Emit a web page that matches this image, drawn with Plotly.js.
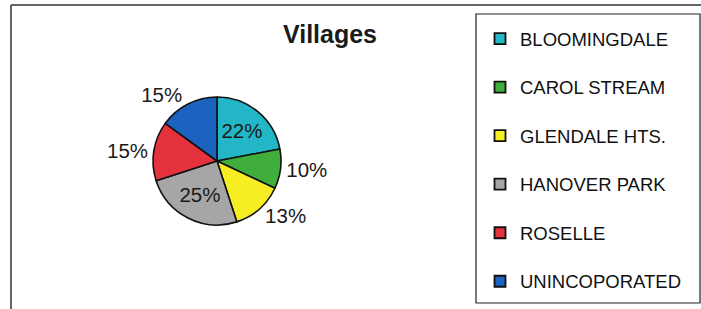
<!DOCTYPE html>
<html>
<head>
<meta charset="utf-8">
<script src="https://cdn.plot.ly/plotly-3.0.1.min.js"></script>
<style>html,body{margin:0;padding:0;background:#fff}#chart{width:701px;height:309px}</style>
</head>
<body>
<div id="chart"></div>
<script>
const categories = ['BLOOMINGDALE', 'CAROL STREAM', 'GLENDALE HTS.', 'HANOVER PARK', 'ROSELLE', 'UNINCOPORATED'];
const shares = [22, 10, 13, 25, 15, 15];
const sliceColors = ['#22b6c6', '#3fae3a', '#f6ee22', '#a6a6a6', '#e5333d', '#1b63bf'];
const labelPositions = ['inside', 'outside', 'outside', 'inside', 'outside', 'outside'];
const chartTitle = 'Villages';

const W = 701, H = 309;
const px = x => x / W;
const py = y => 1 - y / H;
const FONT = '"Liberation Sans", Arial, sans-serif';

const pie = {
  type: 'pie',
  labels: categories,
  values: shares,
  sort: false,
  direction: 'clockwise',
  rotation: 0,
  marker: {colors: sliceColors, line: {color: '#111', width: 1.6}},
  textinfo: 'percent',
  texttemplate: '%{percent:.0%}',
  textposition: labelPositions,
  insidetextorientation: 'horizontal',
  textfont: {family: FONT, size: 20.5, color: '#1a1a1a'},
  showlegend: false,
  hoverinfo: 'label+percent',
  domain: {x: [px(153), px(281)], y: [py(225), py(97)]}
};

const legendTraces = categories.map((name, i) => ({
  type: 'scatter',
  mode: 'markers',
  x: [null], y: [null],
  name: name,
  legendgroup: 'g' + i,
  marker: {symbol: 'square', size: 11, color: sliceColors[i], line: {color: '#111', width: 1.8}},
  showlegend: true,
  hoverinfo: 'skip'
}));

const layout = {
  width: W, height: H,
  margin: {l: 0, r: 0, t: 0, b: 0},
  paper_bgcolor: '#fff',
  plot_bgcolor: 'rgba(0,0,0,0)',
  font: {family: FONT, color: '#111'},
  title: {
    text: '<b>' + chartTitle + '</b>',
    font: {family: FONT, size: 25, color: '#1a1a1a'},
    x: px(330), xanchor: 'center',
    y: py(34), yanchor: 'middle'
  },
  xaxis: {visible: false, domain: [0, 0.01]},
  yaxis: {visible: false, domain: [0, 0.01]},
  showlegend: true,
  legend: {
    x: px(480), xanchor: 'left',
    y: py(20), yanchor: 'top',
    bgcolor: 'rgba(0,0,0,0)',
    borderwidth: 0,
    font: {family: FONT, size: 18.5, color: '#111'},
    tracegroupgap: 21.5,
    traceorder: 'grouped',
    itemwidth: 30
  },
  shapes: [
    {type: 'line', xref: 'paper', yref: 'paper', x0: px(11), x1: 1, y0: py(5), y1: py(5), line: {color: '#333', width: 1.5}},
    {type: 'line', xref: 'paper', yref: 'paper', x0: px(11), x1: px(11), y0: py(5), y1: 0, line: {color: '#333', width: 1.5}},
    {type: 'rect', xref: 'paper', yref: 'paper', x0: px(476), x1: px(700), y0: py(303), y1: py(14), line: {color: '#222', width: 1.2}, fillcolor: 'rgba(0,0,0,0)'}
  ]
};

Plotly.newPlot('chart', [pie].concat(legendTraces), layout, {displayModeBar: false, staticPlot: true});
</script>
</body>
</html>
